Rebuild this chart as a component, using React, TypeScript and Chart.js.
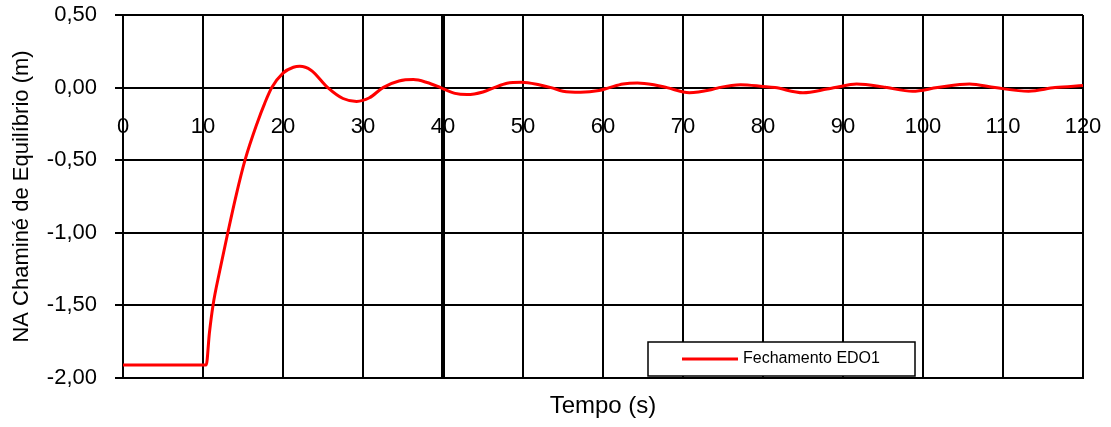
import React, { useEffect, useRef } from "react";
import { Chart, registerables } from "chart.js";

Chart.register(...registerables);

const seriesLabel = "Fechamento EDO1";
const timeValues = [
  0, 10.4, 10.8, 11.25, 12.1, 13.1, 14.15, 15.25, 16.8, 17.7, 18.6, 20.0, 21.3, 22.1, 23.5, 25.6,
  27.5, 29.2, 30.8, 32.5, 34.5, 36.3, 38.0, 39.7, 41.5, 43.0, 45.0, 46.4, 48.0, 49.8,
  52.0, 53.5, 55.0, 57.2, 59.5, 60.8, 62.5, 64.3, 66.5, 68.0, 70.8, 73.5, 74.5, 77.2,
  80.0, 81.5, 85.0, 88.0, 89.0, 91.7, 95.0, 95.5, 98.7, 101.8, 105.8, 109.0, 113.2,
  116.5, 120,
];
const levelValues = [
  -1.91, -1.91, -1.69, -1.5, -1.26, -1.0, -0.74, -0.5, -0.24, -0.11, 0.0, 0.1, 0.14, 0.147, 0.12, 0.0,
  -0.075, -0.095, -0.07, 0.0, 0.045, 0.055, 0.035, 0.0, -0.04, -0.048, -0.03, 0.0, 0.03, 0.037,
  0.02, 0.0, -0.025, -0.032, -0.02, 0.0, 0.025, 0.032, 0.018, 0.0, -0.035, -0.015, 0.0, 0.02,
  0.008, 0.0, -0.035, -0.01, 0.0, 0.025, 0.005, 0.0, -0.025, 0.0, 0.025, 0.0, -0.025,
  0.0, 0.014,
];
const xTickLabels = [0, 10, 20, 30, 40, 50, 60, 70, 80, 90, 100, 110, 120];
const yTicks = [-2, -1.5, -1, -0.5, 0, 0.5];

const FONT = "'Liberation Sans', Arial, sans-serif";

const xLabelPlugin = {
  id: "xLabelsOnZero",
  afterDraw(chart: any) {
    const ctx = chart.ctx;
    const xs = chart.scales.x;
    const ys = chart.scales.y;
    const y0 = ys.getPixelForValue(0);
    ctx.save();
    ctx.font = `22px ${FONT}`;
    ctx.fillStyle = "#000";
    ctx.textAlign = "center";
    ctx.textBaseline = "middle";
    xTickLabels.forEach((v) => {
      ctx.fillText(String(v), xs.getPixelForValue(v), y0 + 39);
    });
    ctx.restore();
  },
};

const legendPlugin = {
  id: "boxLegend",
  afterDraw(chart: any) {
    const ctx = chart.ctx;
    const area = chart.chartArea;
    const ds = chart.data.datasets[0];
    const right = area.right - 168;
    const left = right - 267;
    const bottom = area.bottom - 2;
    const top = bottom - 34;
    ctx.save();
    ctx.fillStyle = "#fff";
    ctx.fillRect(left, top, right - left, bottom - top);
    ctx.strokeStyle = "#000";
    ctx.lineWidth = 1.5;
    ctx.strokeRect(left, top, right - left, bottom - top);
    const my = (top + bottom) / 2;
    ctx.strokeStyle = ds.borderColor;
    ctx.lineWidth = 3;
    ctx.beginPath();
    ctx.moveTo(left + 34, my);
    ctx.lineTo(left + 90, my);
    ctx.stroke();
    ctx.fillStyle = "#000";
    ctx.font = `16px ${FONT}`;
    ctx.textAlign = "left";
    ctx.textBaseline = "middle";
    ctx.fillText(ds.label, left + 95, my);
    ctx.restore();
  },
};

export default function App() {
  const ref = useRef<HTMLCanvasElement>(null);

  useEffect(() => {
    document.body.style.margin = "0";
    const canvas = ref.current;
    if (!canvas) return;
    const chart = new Chart(canvas, {
      type: "line",
      data: {
        datasets: [
          {
            label: seriesLabel,
            data: timeValues.map((t, i) => ({ x: t, y: levelValues[i] })),
            borderColor: "#ff0000",
            borderWidth: 3,
            pointRadius: 0,
            fill: false,
            cubicInterpolationMode: "monotone",
          },
        ],
      },
      options: {
        responsive: false,
        animation: false,
        layout: { padding: { top: 15, right: 28, bottom: 0, left: 0 } },
        plugins: {
          legend: { display: false },
          tooltip: { enabled: false },
        },
        scales: {
          x: {
            type: "linear",
            min: 0,
            max: 120,
            ticks: { stepSize: 10, display: false },
            grid: {
              color: "#000",
              lineWidth: (c: any) => (c.tick && c.tick.value === 40 ? 4 : 2),
              drawTicks: false,
            },
            border: { display: true, color: "#000", width: 2 },
            title: {
              display: true,
              text: "Tempo (s)",
              color: "#000",
              font: { family: FONT, size: 24 },
              padding: { top: 0, bottom: 6 },
            },
            afterFit: (s: any) => {
              s.height = 49;
              s.paddingLeft = 0;
              s.paddingRight = 0;
            },
          },
          y: {
            min: -2,
            max: 0.5,
            afterBuildTicks: (s: any) => {
              s.ticks = yTicks.map((v) => ({ value: v }));
            },
            ticks: {
              color: "#000",
              font: { family: FONT, size: 22 },
              padding: 18,
              callback: (v: any) => Number(v).toFixed(2).replace(".", ","),
            },
            grid: { color: "#000", lineWidth: 2, drawTicks: true, tickLength: 8 },
            border: { display: true, color: "#000", width: 2 },
            title: {
              display: true,
              text: "NA Chaminé de Equilíbrio (m)",
              color: "#000",
              font: { family: FONT, size: 22 },
              padding: { top: 9, bottom: 0 },
            },
            afterFit: (s: any) => {
              s.width = 123;
              s.paddingTop = 0;
              s.paddingBottom = 0;
            },
          },
        },
      },
      plugins: [xLabelPlugin, legendPlugin],
    });
    return () => chart.destroy();
  }, []);

  return <canvas ref={ref} width={1111} height={427} style={{ display: "block" }} />;
}
